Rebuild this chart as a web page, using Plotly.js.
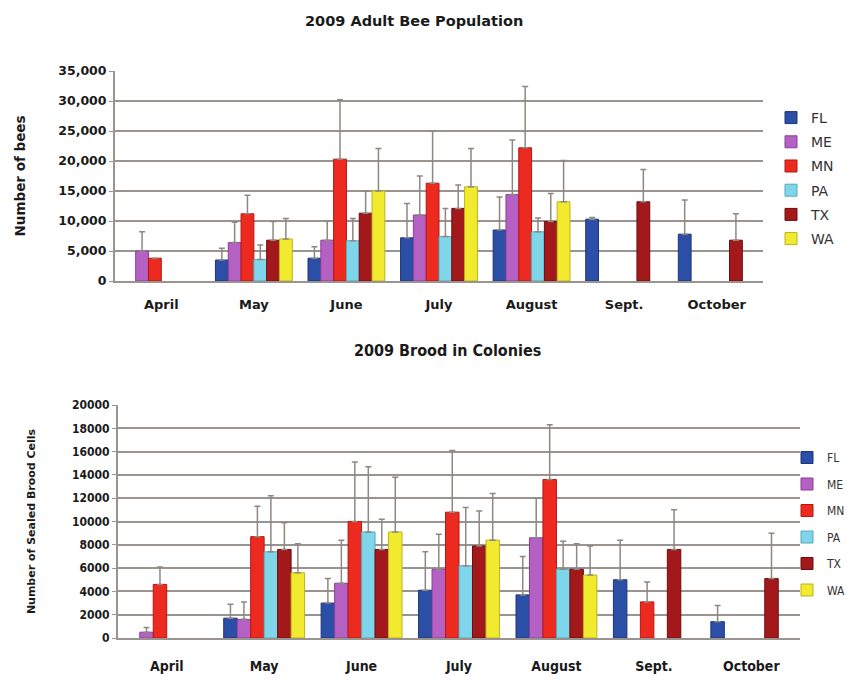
<!DOCTYPE html>
<html>
<head>
<meta charset="utf-8">
<script src="https://cdn.plot.ly/plotly-3.0.1.min.js"></script>
<style>html,body{margin:0;padding:0;background:#fff;}#chart{width:850px;height:681px;}</style>
</head>
<body>
<div id="chart"></div>
<script>
// Categories
const months = ['April','May','June','July','August','Sept.','October'];
const states = ['FL','ME','MN','PA','TX','WA'];

// 2009 Adult Bee Population (mean) and upper error
const adultFL = [null, 3500, 3800, 7200, 8500, 10300, 7800];
const adultME = [5000, 6400, 6800, 11000, 14400, null, null];
const adultMN = [3800, 11200, 20300, 16300, 22200, null, null];
const adultPA = [null, 3600, 6700, 7400, 8200, null, null];
const adultTX = [null, 6800, 11300, 12100, 9900, 13200, 6800];
const adultWA = [null, 7000, 15000, 15700, 13200, null, null];

const adultErrFL = [0, 1950, 1900, 5700, 5500, 300, 5700];
const adultErrME = [3200, 3400, 3200, 6500, 9100, 0, 0];
const adultErrMN = [0, 3100, 9900, 8700, 10200, 0, 0];
const adultErrPA = [0, 2400, 3700, 4700, 2300, 0, 0];
const adultErrTX = [0, 3100, 3700, 3900, 4700, 5400, 4400];
const adultErrWA = [0, 3400, 7100, 6400, 6900, 0, 0];

// 2009 Brood in Colonies (mean) and upper error
const broodFL = [null, 1700, 3000, 4100, 3700, 5000, 1400];
const broodME = [500, 1600, 4700, 5900, 8600, null, null];
const broodMN = [4600, 8700, 10000, 10800, 13600, 3100, null];
const broodPA = [null, 7400, 9100, 6200, 5900, null, null];
const broodTX = [null, 7600, 7600, 7900, 5900, 7600, 5100];
const broodWA = [null, 5600, 9100, 8400, 5400, null, null];

const broodErrFL = [0, 1200, 2100, 3300, 3300, 3400, 1400];
const broodErrME = [400, 1500, 3700, 3000, 3400, 0, 0];
const broodErrMN = [1500, 2600, 5100, 5300, 4700, 1700, 0];
const broodErrPA = [0, 4800, 5600, 5000, 2400, 0, 0];
const broodErrTX = [0, 2300, 2600, 3000, 2200, 3400, 3900];
const broodErrWA = [0, 2500, 4700, 4000, 2500, 0, 0];

const fillColors = ['#2b4ea6','#b561c4','#ec2a20','#7fd6ea','#a3191b','#f2ea2e'];
const lineColors = ['#1d3579','#8a3f98','#b8160f','#55a9bd','#6e0c0e','#bdb31c'];

const adult = [adultFL, adultME, adultMN, adultPA, adultTX, adultWA];
const adultErr = [adultErrFL, adultErrME, adultErrMN, adultErrPA, adultErrTX, adultErrWA];
const brood = [broodFL, broodME, broodMN, broodPA, broodTX, broodWA];
const broodErr = [broodErrFL, broodErrME, broodErrMN, broodErrPA, broodErrTX, broodErrWA];

const errStyle = (arr) => ({type:'data', symmetric:false, array:arr, arrayminus:arr.map(()=>0), color:'#8e8883', thickness:1.5, width:3});

const traces = [];
states.forEach((s,i) => {
  traces.push({type:'bar', name:s, x:months, y:adult[i], xaxis:'x', yaxis:'y', legend:'legend', legendgroup:'a'+s,
    marker:{color:fillColors[i], line:{color:lineColors[i], width:1}}, error_y:errStyle(adultErr[i])});
});
states.forEach((s,i) => {
  traces.push({type:'bar', name:s, x:months, y:brood[i], xaxis:'x2', yaxis:'y2', legend:'legend2', legendgroup:'b'+s,
    marker:{color:fillColors[i], line:{color:lineColors[i], width:1}}, error_y:errStyle(broodErr[i])});
});

const W = 850, H = 681;
const px = v => v / W;
const py = v => 1 - v / H;
const gridC = '#9a9490';

const layout = {
  width: W, height: H,
  margin:{l:0, r:0, t:0, b:0, autoexpand:false},
  paper_bgcolor:'#ffffff', plot_bgcolor:'rgba(0,0,0,0)',
  barmode:'group', bargap:0.17, bargroupgap:0,
  showlegend:true,
  font:{family:'DejaVu Sans, Arial, sans-serif', color:'#222'},
  xaxis:{domain:[px(115), px(763)], anchor:'y', type:'category', showgrid:false,
    showline:true, linecolor:gridC, linewidth:2, ticks:'', ticklabelstandoff:10,
    tickfont:{family:'DejaVu Sans, Arial', size:13, color:'#1a1a1a', weight:'bold'}},
  yaxis:{domain:[py(281), py(71)], anchor:'x', range:[0,35000], dtick:5000, tickformat:',d',
    showgrid:true, gridcolor:gridC, gridwidth:1.5, showline:true, linecolor:gridC, linewidth:2,
    ticks:'outside', ticklen:4, tickcolor:gridC, zeroline:false,
    tickfont:{family:'DejaVu Sans, Arial', size:12.5, color:'#1a1a1a', weight:'bold'},
    title:{text:'Number of bees', standoff:30, font:{family:'DejaVu Sans, Arial', size:13.5, color:'#1a1a1a', weight:'bold'}}},
  xaxis2:{domain:[px(118), px(800)], anchor:'y2', type:'category', showgrid:false,
    showline:true, linecolor:gridC, linewidth:2, ticks:'', ticklabelstandoff:14,
    tickfont:{family:'Liberation Sans Narrow, DejaVu Sans Condensed, Arial Narrow', size:14, color:'#1a1a1a', weight:'bold'}},
  yaxis2:{domain:[py(638), py(405)], anchor:'x2', range:[0,20000], dtick:2000, tickformat:'d',
    showgrid:true, gridcolor:gridC, gridwidth:2, showline:true, linecolor:gridC, linewidth:2,
    ticks:'outside', ticklen:4, tickcolor:gridC, zeroline:false,
    tickfont:{family:'Liberation Sans Narrow, DejaVu Sans Condensed, Arial Narrow', size:12, color:'#1a1a1a', weight:'bold'},
    title:{text:'Number of Sealed Brood Cells', standoff:34, font:{family:'DejaVu Sans, Arial', size:11, color:'#1a1a1a', weight:'bold'}}},
  legend:{x:px(771), y:py(102), xanchor:'left', yanchor:'top', tracegroupgap:3,
    itemwidth:30, font:{family:'DejaVu Sans, Arial', size:14, color:'#333'}, bgcolor:'rgba(0,0,0,0)'},
  legend2:{x:px(787), y:py(443), xanchor:'left', yanchor:'top', tracegroupgap:7.5,
    itemwidth:30, font:{family:'Liberation Sans Narrow, DejaVu Sans Condensed', size:12, color:'#333'}, bgcolor:'rgba(0,0,0,0)'},
  annotations:[
    {text:'<b>2009 Adult Bee Population</b>', xref:'paper', yref:'paper', x:px(414), y:py(21), yanchor:'middle', showarrow:false,
      font:{family:'DejaVu Sans, Verdana, Arial', size:14.5, color:'#1a1a1a'}},
    {text:'<b>2009 Brood in Colonies</b>', xref:'paper', yref:'paper', x:px(447), y:py(350), yanchor:'middle', showarrow:false,
      font:{family:'Liberation Sans Narrow, DejaVu Sans Condensed, Arial Narrow', size:16, color:'#1a1a1a'}}
  ]
};

Plotly.newPlot('chart', traces, layout, {displayModeBar:false, staticPlot:true});
</script>
</body>
</html>
